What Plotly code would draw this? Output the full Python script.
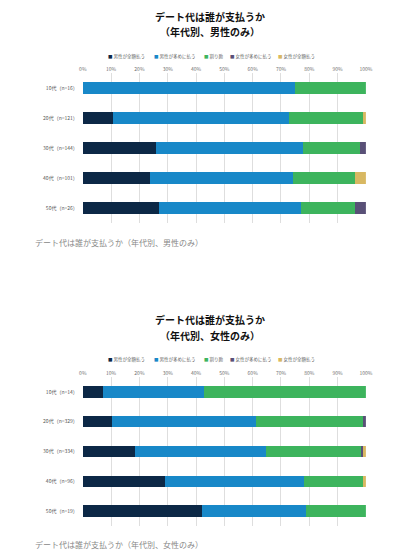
import plotly.graph_objects as go

# ---------------- data ----------------
series_names = ["男性が全額払う", "男性が多めに払う", "割り勘", "女性が多めに払う", "女性が全額払う"]
series_colors = ["#0c2846", "#1888c8", "#3db45d", "#595077", "#d8b862"]

men_categories = ["10代（n=16）", "20代（n=121）", "30代（n=144）", "40代（n=101）", "50代（n=26）"]
men_male_full = [0, 10.7, 25.7, 23.8, 26.9]
men_male_more = [75.0, 62.0, 52.1, 50.5, 50.0]
men_split = [25.0, 26.4, 20.1, 21.8, 19.2]
men_female_more = [0, 0, 2.1, 0, 3.8]
men_female_full = [0, 0.8, 0, 4.0, 0]

women_categories = ["10代（n=14）", "20代（n=329）", "30代（n=334）", "40代（n=96）", "50代（n=19）"]
women_male_full = [7.1, 10.3, 18.6, 29.2, 42.1]
women_male_more = [35.7, 50.8, 46.1, 49.0, 36.8]
women_split = [57.1, 37.7, 33.5, 20.8, 21.1]
women_female_more = [0, 1.2, 0.6, 0, 0]
women_female_full = [0, 0, 1.2, 1.0, 0]

tick_values = [0, 10, 20, 30, 40, 50, 60, 70, 80, 90, 100]
tick_labels = ["0%", "10%", "20%", "30%", "40%", "50%", "60%", "70%", "80%", "90%", "100%"]

title_line1 = "デート代は誰が支払うか"
title_men_line2 = "（年代別、男性のみ）"
title_women_line2 = "（年代別、女性のみ）"
caption_men = "デート代は誰が支払うか（年代別、男性のみ）"
caption_women = "デート代は誰が支払うか（年代別、女性のみ）"

# ---------------- figure ----------------
W, H = 405, 556
FONT = "Noto Sans CJK JP"
fig = go.Figure()

men_series = [men_male_full, men_male_more, men_split, men_female_more, men_female_full]
women_series = [women_male_full, women_male_more, women_split, women_female_more, women_female_full]

for name, color, vals in zip(series_names, series_colors, men_series):
    fig.add_trace(go.Bar(y=men_categories, x=vals, name=name, orientation="h",
                         marker=dict(color=color, line=dict(width=0)),
                         xaxis="x", yaxis="y", showlegend=False,
                         hovertemplate="%{y}<br>" + name + ": %{x}%<extra></extra>"))
for name, color, vals in zip(series_names, series_colors, women_series):
    fig.add_trace(go.Bar(y=women_categories, x=vals, name=name, orientation="h",
                         marker=dict(color=color, line=dict(width=0)),
                         xaxis="x2", yaxis="y2", showlegend=False,
                         hovertemplate="%{y}<br>" + name + ": %{x}%<extra></extra>"))

def py(px):
    return 1 - px / H

xdom = [81 / W, 372 / W]
xax = dict(domain=xdom, range=[0, 100], side="top", tickvals=tick_values, ticktext=tick_labels,
           showgrid=True, gridcolor="#dedede", gridwidth=1, zeroline=False, showline=False,
           ticks="", tickfont=dict(size=5, color="#707070", family=FONT), fixedrange=True)
yax = dict(autorange="reversed", showgrid=False, zeroline=False, showline=False,
           ticks="outside", ticklen=3, tickcolor="rgba(0,0,0,0)",
           tickfont=dict(size=5, color="#555555", family=FONT), fixedrange=True)

fig.update_layout(
    width=W, height=H,
    margin=dict(l=0, r=0, t=0, b=0),
    paper_bgcolor="white", plot_bgcolor="white",
    barmode="stack", bargap=0.62,
    font=dict(family=FONT),
    xaxis=dict(**xax, anchor="y"),
    yaxis=dict(**yax, domain=[py(223), py(73)], anchor="x"),
    xaxis2=dict(**xax, anchor="y2"),
    yaxis2=dict(**yax, domain=[py(526), py(377)], anchor="x2"),
)

annotations = []
# titles (two lines each)
for txt, ypx in [(title_line1, 16), (title_men_line2, 32), (title_line1, 319), (title_women_line2, 335)]:
    annotations.append(dict(text="<b>" + txt + "</b>", x=212 / W, y=py(ypx), xref="paper", yref="paper",
                            xanchor="center", yanchor="middle", showarrow=False,
                            font=dict(size=10, color="#111111", family=FONT)))
# legends (drawn as text entries)
legend_x = [105, 152, 204, 230, 280]
for ypx in [56, 359]:
    for name, color, lx in zip(series_names, series_colors, legend_x):
        annotations.append(dict(text="<span style='color:%s'>■</span> %s" % (color, name),
                                x=lx / W, y=py(ypx), xref="paper", yref="paper",
                                xanchor="left", yanchor="middle", showarrow=False,
                                font=dict(size=4.5, color="#666666", family=FONT)))
# captions
for txt, ypx in [(caption_men, 243), (caption_women, 544)]:
    annotations.append(dict(text=txt, x=30 / W, y=py(ypx), xref="paper", yref="paper",
                            xanchor="left", yanchor="middle", showarrow=False,
                            font=dict(size=8, color="#888888", family=FONT)))
fig.update_layout(annotations=annotations)

fig.write_html("out.html", config={"displayModeBar": False},
               post_script="document.body.style.margin='0';document.body.style.overflow='hidden';")
